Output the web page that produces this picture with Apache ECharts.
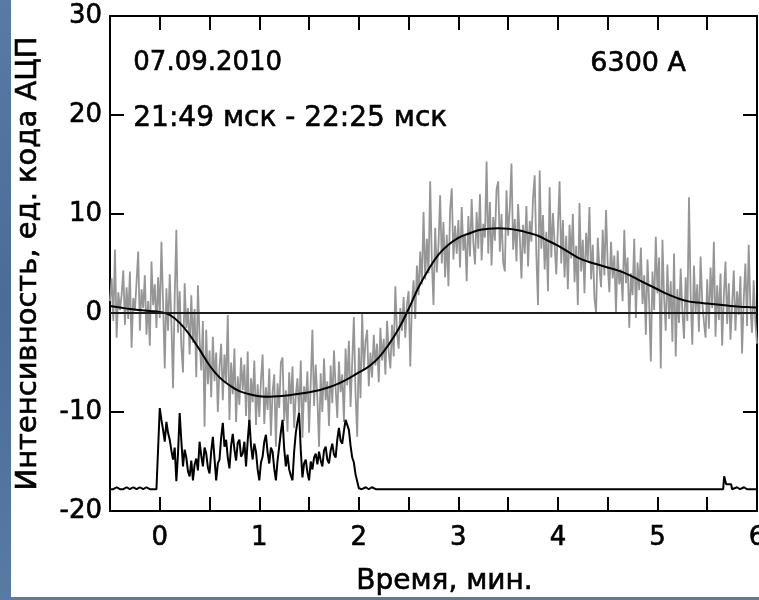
<!DOCTYPE html>
<html>
<head>
<meta charset="utf-8">
<script src="https://cdn.jsdelivr.net/npm/echarts/dist/echarts.min.js"></script>
<style>
  html, body { margin: 0; padding: 0; background: #ffffff; overflow: hidden; }
  #chart { width: 759px; height: 600px; }
</style>
</head>
<body>
<div id="chart"></div>
<script>
// Photometer channel 6300 A, 07.09.2010, minutes from the event onset.

// Raw intensity, ADC code units, one sample per second starting at -0.5 min
const intensityStart = -0.5;
const intensityStep = 1 / 60;
const intensity = [
  1.2, 3.5, -0.8, 6.4, -2.5, 2.1, 0.3, 1.8, 4.3, -1.2, 2.6, -0.6, 4.2, -3.5, 1.5, 0.2, 3.1, 6.2, -1.8, 2.4,
  0.5, 3.8, -2.2, 1.2, -3.3, 5.2, 0.8, 2.9, -1.5, 3.6,
  -0.5, 7.2, 1.0, -5.6, 2.5, -1.8, 3.9, -0.9, -7.6, 1.6, 8.4, -2.0, 2.2, -3.4, -6.0, 3.0, -1.5, 0.5, -4.2, 1.8,
  -3.0, 0.4, -6.5, 2.8, -2.6, -5.8, -0.8, -11.5, -1.7, -7.2,
  -3.8, -8.5, -2.4, -6.9, -4.0, -10.0, -5.5, -3.1, -8.8, -4.2, -7.0, -0.2, -10.8, -5.0, -8.2, -3.6, -11.0, -6.4, -9.3, -4.5,
  -7.8, -5.2, -10.4, -3.9, -12.1, -6.6, -9.0, -4.8, -11.3, -7.2,
  -10.5, -6.8, -4.2, -11.2, -7.5, -9.8, -5.6, -12.4, -8.0, -6.2, -13.5, -7.1, -9.6, -5.0, -4.5, -10.9, -7.8, -12.0, -6.0, -9.2,
  -5.4, -11.6, -8.3, -6.6, -10.2, -4.8, -12.6, -7.4, -9.0, -5.9,
  -12.1, -7.0, -1.7, -9.4, -5.2, -8.6, -13.5, -6.1, -10.0, -4.6, -8.8, -6.9, -11.4, -5.3, -9.1, -3.8, -7.6, -10.6, -4.9, -8.0,
  -6.2, -11.0, -3.6, -7.3, -2.8, -9.5, -5.0, -0.4, -8.1, -12.5,
  -3.5, -8.6, 0.0, -5.8, -2.9, -1.7, -7.4, -4.0, -6.5, -2.2, -5.3, -3.1, -7.0, -1.5, -4.8, -2.6, -6.2, -0.8, -3.9, -5.6,
  -1.2, -4.4, 2.7, -2.0, -3.6, 0.5, -1.8, 1.6, -2.5, 0.9,
  2.2, -5.4, 1.0, 3.3, -0.6, 4.8, 1.8, 6.2, 2.9, 10.2, 3.4, 7.5, 4.0, 13.3, 5.2, 0.8, 8.6, 4.1, 6.8, 11.9,
  5.0, 9.2, 3.6, 7.9, 2.7, 10.4, 12.6, 5.4, 8.8, 6.0,
  9.4, 4.6, 10.7, 6.3, 8.0, 3.2, 9.8, 5.7, 11.5, 7.1, 4.9, 10.2, 6.5, 12.0, 5.3, 9.0, 7.6, 15.3, 6.0, 11.2,
  4.8, 9.7, 7.3, 12.5, 13.3, 6.2, 10.0, 5.1, 4.2, 12.4,
  7.8, 10.6, 15.1, 6.4, 9.5, 5.2, 11.0, 7.7, 3.5, 8.9, 6.0, 10.8, 4.7, 9.3, 7.2, 11.6, 13.9, 5.8, 0.8, 14.4,
  6.5, 9.9, 4.4, 8.2, 2.2, 12.7, 5.6, 10.1, 7.0, 3.9,
  8.7, 13.3, 5.0, 9.4, 3.6, 7.8, 2.4, 8.9, 5.5, 10.0, 3.1, 6.8, 0.8, 11.1, 4.2, 7.4, 2.0, 8.1, 5.3, 10.7,
  3.4, 6.9, 1.5, 0.0, 7.6, 4.6, 2.6, 8.4, 3.8, 10.4,
  4.9, 2.1, 7.2, 3.5, 5.8, 0.0, 6.3, 2.9, 4.4, 1.2, 8.4, 3.0, 5.6, -1.5, 4.0, 1.8, 7.5, -0.5, 5.1, 2.3,
  6.6, 0.9, 3.8, -2.2, 5.4, 1.0, -4.9, 4.2, 0.3, 7.7,
  2.0, 5.6, -5.6, 7.4, 1.5, -1.8, 4.9, -0.6, 3.2, -2.9, 6.0, -4.4, 2.4, -1.0, 4.5, 0.2, -2.6, 3.6, -0.8, 11.7,
  1.9, -3.2, 4.8, 0.0, 2.9, -1.9, 5.7, 1.1, -0.9, -2.5,
  3.4, -1.6, 4.6, 0.5, 7.2, -2.4, 2.8, -0.7, 4.0, -3.3, 1.7, 5.2, -1.1, 3.0, -2.7, 0.8, 4.3, -1.8, 2.2, -0.2,
  3.7, -4.1, 1.4, 5.0, -1.3, 6.9, 0.6, -2.0, 3.3, -0.9, -3.1
];

// Smoothed intensity, every 0.1 min from -0.5
const smoothStart = -0.5;
const smoothStep = 0.1;
const smoothed = [
  0.7, 0.55, 0.4, 0.3, 0.2, 0.1, -0.2, -1.0, -2.2, -3.7,
  -5.3, -6.5, -7.3, -7.9, -8.2, -8.4, -8.45, -8.4, -8.3, -8.15,
  -8.0, -7.8, -7.5, -7.1, -6.6, -6.0, -5.4, -4.5, -3.2, -1.6,
  0.4, 2.6, 4.4, 5.9, 6.9, 7.6, 8.0, 8.35, 8.5, 8.55,
  8.5, 8.35, 8.1, 7.8, 7.3, 6.8, 6.2, 5.6, 5.2, 4.9,
  4.6, 4.3, 3.9, 3.4, 2.9, 2.4, 1.9, 1.5, 1.2, 1.05,
  0.95, 0.85, 0.75, 0.65, 0.6, 0.55
];

// Lower trace: quiet level before the burst, every 2 s from -0.5 min
const quietStep = 2 / 60;
const quietBefore = [-17.8, -17.8, -17.6, -17.8, -17.8, -17.6, -17.8, -17.6, -17.8, -17.6, -17.8, -17.6, -17.8, -17.8, -17.8];
// Burst, every second from 0 min
const burstStart = 0;
const burstStep = 1 / 60;
const burst = [
  -9.6, -10.8, -11.8, -13.0, -11.0, -12.1, -12.8, -13.9, -14.8, -13.6,
  -17.0, -14.2, -10.1, -12.9, -15.5, -13.8, -14.6, -16.0, -16.5, -14.9,
  -16.9, -15.3, -14.7, -15.9, -13.0, -14.4, -15.5, -13.6, -14.2, -15.6,
  -16.2, -14.0, -12.5, -14.7, -16.9, -15.2, -14.8, -12.6, -11.1, -13.5,
  -12.8, -14.6, -15.7, -13.4, -12.2, -13.8, -14.9, -13.1, -12.8, -14.5,
  -14.2, -13.0, -15.5, -12.9, -10.8, -13.4, -14.8, -13.2, -14.0, -15.8,
  -16.9, -15.1, -14.5, -13.0, -12.3, -14.1, -15.2, -13.6, -14.0, -15.7,
  -16.9, -14.9, -13.5, -12.0, -10.8, -13.7, -15.5, -14.3, -15.8, -16.4,
  -16.9, -14.0, -12.1, -11.0, -10.1, -13.9, -16.6, -15.2, -14.8, -16.1,
  -16.9, -15.0, -15.8, -14.6, -14.2, -15.3, -14.0, -14.9, -15.5, -13.9,
  -13.5, -14.8, -15.2, -13.9, -13.2, -14.3, -14.6, -12.8, -11.6, -12.9,
  -13.2, -11.9, -10.8, -11.3, -11.8, -13.4, -14.6, -15.1, -16.3, -17.0,
  -17.7
];
// Quiet level after the burst: [minutes, value]
const quietAfter = [
  [2.03, -17.8], [2.07, -17.6], [2.10, -17.8], [2.13, -17.6], [2.17, -17.8],
  [5.66, -17.8], [5.67, -16.5], [5.69, -17.3], [5.74, -17.3], [5.75, -17.8],
  [5.80, -17.6], [5.83, -17.8], [5.87, -17.6], [5.90, -17.8], [6.00, -17.8]
];

const xTickLabels = ['0', '1', '2', '3', '4', '5', '6'];

const FONT = 'DejaVu Sans';
// a hairline outline in the text colour gives the labels their heavier stroke
const heavy = { textBorderColor: '#000', textBorderWidth: 0.6 };

const intensityData = intensity.map((v, i) => [intensityStart + i * intensityStep, v]);
const smoothData = smoothed.map((v, i) => [smoothStart + i * smoothStep, v]);
const countData = []
  .concat(quietBefore.map((v, i) => [intensityStart + i * quietStep, v]))
  .concat(burst.map((v, i) => [burstStart + i * burstStep, v]))
  .concat(quietAfter);

const isLabelled = v => xTickLabels.indexOf(String(Math.round(v * 1000) / 1000)) >= 0;

const tickStyle = { show: true, inside: true, length: 14, lineStyle: { color: '#000', width: 2 } };
const frameLine = { show: true, onZero: false, lineStyle: { color: '#000', width: 2 } };

const titleText = (text, left, top, size) => ({
  type: 'text', left: left, top: top,
  style: Object.assign({ text: text, fill: '#000', font: size + 'px "' + FONT + '"' },
    { stroke: '#000', lineWidth: 0.6 })
});

const chart = echarts.init(document.getElementById('chart'));
chart.setOption({
  animation: false,
  backgroundColor: '#ffffff',
  grid: { left: 110, right: 2, top: 16, bottom: 89, containLabel: false, outerBoundsMode: 'none' },
  xAxis: [
    {
      type: 'value', position: 'bottom', min: -0.5, max: 6, interval: 0.5,
      axisLine: frameLine,
      axisTick: tickStyle,
      splitLine: { show: false },
      axisLabel: Object.assign({
        show: true, margin: 14, color: '#000', fontFamily: FONT, fontSize: 26,
        showMinLabel: true, showMaxLabel: true, hideOverlap: false,
        formatter: v => isLabelled(v) ? String(Math.round(v)) : ''
      }, heavy),
      name: 'Время, мин.', nameLocation: 'middle', nameGap: 57,
      nameTextStyle: Object.assign({ color: '#000', fontFamily: FONT, fontSize: 28, padding: [0, 0, 0, 22] }, heavy)
    },
    {
      type: 'value', position: 'top', min: -0.5, max: 6, interval: 0.5,
      axisLine: frameLine,
      axisTick: tickStyle,
      axisLabel: { show: false },
      splitLine: { show: false }
    }
  ],
  yAxis: [
    {
      type: 'value', position: 'left', min: -20, max: 30, interval: 10,
      axisLine: frameLine,
      axisTick: tickStyle,
      splitLine: { show: false },
      axisLabel: Object.assign({ show: true, margin: 8, color: '#000', fontFamily: FONT, fontSize: 26 }, heavy),
      name: 'Интенсивность, ед. кода АЦП', nameLocation: 'middle', nameGap: 67,
      nameTextStyle: Object.assign({ color: '#000', fontFamily: FONT, fontSize: 29 }, heavy)
    },
    {
      type: 'value', position: 'right', min: -20, max: 30, interval: 10,
      axisLine: frameLine,
      axisTick: tickStyle,
      axisLabel: { show: false },
      splitLine: { show: false }
    }
  ],
  graphic: [
    { type: 'rect', left: 0, top: 0, shape: { width: 11, height: 600 },
      style: { fill: new echarts.graphic.LinearGradient(0, 0, 1, 1, [
        { offset: 0, color: '#5a7aa6' }, { offset: 0.5, color: '#4b6b98' }, { offset: 1, color: '#587aa3' }]) } },
    { type: 'rect', left: 0, top: 597, shape: { width: 759, height: 3 }, style: { fill: '#5b7aa3' } },
    titleText('07.09.2010', 133, 50, 26),
    titleText('6300 A', 590, 50, 27),
    titleText('21:49 мск - 22:25 мск', 133, 104, 28)
  ],
  series: [
    {
      name: 'Интенсивность', type: 'line', xAxisIndex: 0, yAxisIndex: 0,
      data: intensityData, showSymbol: false, silent: true,
      lineStyle: { color: '#969696', width: 1.8 }
    },
    {
      name: 'Сглаженная', type: 'line', xAxisIndex: 0, yAxisIndex: 0,
      data: smoothData, smooth: 0.4, showSymbol: false, silent: true,
      lineStyle: { color: '#000', width: 2 },
      markLine: {
        silent: true, symbol: 'none', animation: false,
        label: { show: false },
        lineStyle: { color: '#1a1a1a', width: 2, type: 'solid' },
        data: [{ yAxis: 0 }]
      }
    },
    {
      name: 'Счёт', type: 'line', xAxisIndex: 0, yAxisIndex: 0,
      data: countData, showSymbol: false, silent: true,
      lineStyle: { color: '#000', width: 2 }
    }
  ]
});
</script>
</body>
</html>
